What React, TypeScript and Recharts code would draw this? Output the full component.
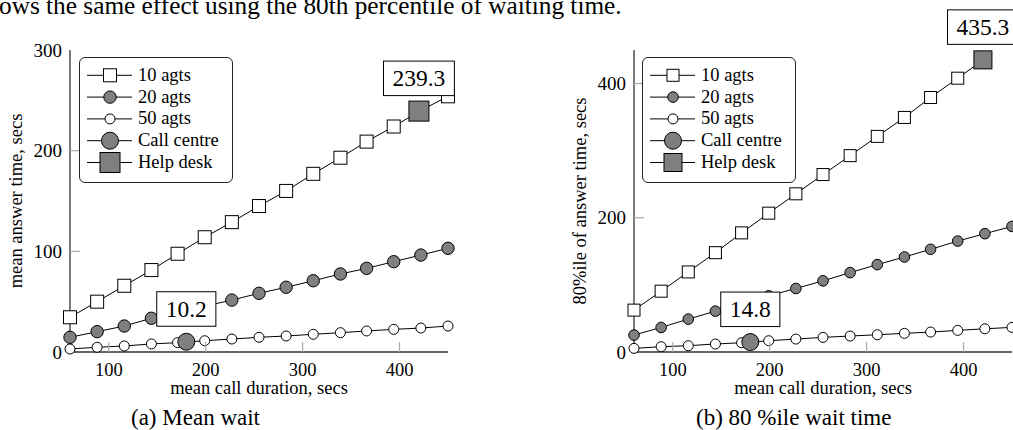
import { ComposedChart, Line, XAxis, YAxis, Legend, Label } from 'recharts';

const FONT = '"Liberation Serif", "Times New Roman", serif';
const GRAY = '#7f7f7f';
const FRAME = '#333';
const TICK_COLOR = '#a8a8a8';
const TICK_LEN = 10;

// mean call duration (secs) shared by every curve
const durations = [60, 88, 116, 144, 171, 199, 227, 255, 283, 311, 339, 366, 394, 422, 450];

// (a) mean answer time, secs
const meanAgts10 = [34.5, 50, 65.8, 81.4, 97.6, 114, 129, 145, 160, 177, 193, 209, 224, 240, 254];
const meanAgts20 = [14.6, 20.2, 25.8, 33.5, 39.5, 45.5, 51.6, 58.3, 64.3, 70.8, 77.5, 83.1, 89.7, 96.3, 103];
const meanAgts50 = [3, 4.7, 6, 8, 9.3, 11.2, 12.9, 14.6, 15.9, 17.6, 19.2, 20.9, 22.5, 23.8, 25.8];
const meanCallCentre = [{ duration: 180, wait: 10.2 }];
const meanHelpDesk = [{ duration: 420, wait: 239.3 }];

// (b) 80th percentile of answer time, secs (last 10 agts point is off the top of the axis)
const p80Agts10 = [62.4, 90.6, 119.3, 148, 177.5, 206.9, 235.7, 264.4, 292.6, 321.3, 349.5, 379.2, 408, 437, null];
const p80Agts20 = [25.2, 36.6, 49, 60.9, 72.5, 83.7, 94.6, 106, 118.3, 130.2, 141.6, 153, 165.3, 176.3, 187.1];
const p80Agts50 = [5.4, 7.9, 9.4, 11.9, 13.8, 16.8, 19.3, 21.8, 23.8, 25.7, 27.8, 29.7, 32.2, 34.6, 36.7];
const p80CallCentre = [{ duration: 180, wait: 14.8 }];
const p80HelpDesk = [{ duration: 420, wait: 435.3 }];

const xTicks = [100, 200, 300, 400];
const meanTicks = [0, 100, 200, 300];
const p80Ticks = [0, 200, 400];

const legendEntries = [
  { name: '10 agts', kind: 'square' },
  { name: '20 agts', kind: 'dot' },
  { name: '50 agts', kind: 'ring' },
  { name: 'Call centre', kind: 'bigDot' },
  { name: 'Help desk', kind: 'bigSquare' },
];

type Kind = 'square' | 'dot' | 'ring' | 'bigDot' | 'bigSquare';
type Sizes = Record<Kind, number>;

const meanSizes: Sizes = { square: 13, dot: 12.4, ring: 10, bigDot: 17, bigSquare: 20 };
const p80Sizes: Sizes = { square: 12, dot: 10.6, ring: 10, bigDot: 17, bigSquare: 18 };

function Marker({ kind, cx, cy, size }: { kind: Kind; cx: number; cy: number; size: number }) {
  const fill = kind === 'dot' || kind === 'bigDot' || kind === 'bigSquare' ? GRAY : '#fff';
  if (kind === 'square' || kind === 'bigSquare') {
    return <rect x={cx - size / 2} y={cy - size / 2} width={size} height={size} fill={fill} stroke="#000" strokeWidth={1} />;
  }
  return <circle cx={cx} cy={cy} r={size / 2} fill={fill} stroke="#000" strokeWidth={1} />;
}

const makeDot = (kind: Kind, size: number) => (p: any) => {
  if (p.cy == null || p.value == null) return <g key={`${kind}-${p.index}`} />;
  return (
    <g key={`${kind}-${p.index}`}>
      <Marker kind={kind} cx={p.cx} cy={p.cy} size={size} />
    </g>
  );
};

// big marker with its value written in a box just above it
const makeCallout = (kind: Kind, size: number) => (p: any) => {
  const text = p.payload.wait.toFixed(1);
  const fs = 23.5;
  const w = (text.length - 1) * 0.5 * fs + 0.25 * fs + 18;
  const h = 34.5;
  const bottom = p.cy - 15.5;
  return (
    <g key={`${kind}-${p.index}`}>
      <Marker kind={kind} cx={p.cx} cy={p.cy} size={size} />
      <rect x={p.cx - w / 2} y={bottom - h} width={w} height={h} fill="#fff" stroke="#000" strokeWidth={1} />
      <text x={p.cx} y={bottom - h / 2 + 8} textAnchor="middle" fontSize={fs} fontFamily={FONT} fill="#000">
        {text}
      </text>
    </g>
  );
};

const BottomTick = (p: any) => (
  <g>
    <line x1={p.x} x2={p.x} y1={p.y} y2={p.y - TICK_LEN} stroke={TICK_COLOR} strokeWidth={1.2} />
    <text x={p.x} y={p.y + 24} textAnchor="middle" fontSize={18.5} fontFamily={FONT} fill="#000">
      {p.payload.value}
    </text>
  </g>
);

const TopTick = (p: any) => (
  <line x1={p.x} x2={p.x} y1={p.y} y2={p.y + TICK_LEN} stroke={TICK_COLOR} strokeWidth={1.2} />
);

const makeLeftTick = (ends: number[]) => (p: any) => (
  <g>
    {!ends.includes(p.payload.value) && (
      <line x1={p.x} x2={p.x + TICK_LEN} y1={p.y} y2={p.y} stroke={TICK_COLOR} strokeWidth={1.2} />
    )}
    <text x={p.x - 8} y={p.y + 6.5} textAnchor="end" fontSize={19} fontFamily={FONT} fill="#000">
      {p.payload.value}
    </text>
  </g>
);

const makeRightTick = (ends: number[]) => (p: any) =>
  ends.includes(p.payload.value) ? (
    <g />
  ) : (
    <line x1={p.x} x2={p.x - TICK_LEN} y1={p.y} y2={p.y} stroke={TICK_COLOR} strokeWidth={1.2} />
  );

function LegendBox({ sizes }: { sizes: Sizes }) {
  return (
    <div
      style={{
        width: 154,
        height: 126,
        boxSizing: 'border-box',
        border: '1px solid #222',
        borderRadius: 6,
        background: '#fff',
        position: 'relative',
      }}
    >
      <svg width={154} height={126} style={{ position: 'absolute', left: -1, top: -1 }}>
        {legendEntries.map((e, i) => {
          const y = 18.3 + i * 21.8;
          return (
            <g key={e.name}>
              <line x1={8} x2={53} y1={y} y2={y} stroke="#000" strokeWidth={1} />
              <Marker kind={e.kind as Kind} cx={31} cy={y} size={sizes[e.kind as Kind]} />
              <text x={59} y={y + 5.5} fontSize={18.5} fontFamily={FONT} fill="#000">
                {e.name}
              </text>
            </g>
          );
        })}
      </svg>
    </div>
  );
}

interface PanelProps {
  width: number;
  marginRight: number;
  agts10: (number | null)[];
  agts20: number[];
  agts50: number[];
  callCentre: { duration: number; wait: number }[];
  helpDesk: { duration: number; wait: number }[];
  yMax: number;
  yTicks: number[];
  yTitle: string;
  sizes: Sizes;
  legendLeft: number;
}

function WaitPanel(props: PanelProps) {
  const { width, marginRight, agts10, agts20, agts50, callCentre, helpDesk, yMax, yTicks, yTitle, sizes, legendLeft } = props;
  const rows = durations.map((d, i) => ({ duration: d, agts10: agts10[i], agts20: agts20[i], agts50: agts50[i] }));
  const ends = [0, yMax];

  return (
    <ComposedChart width={width} height={430} data={rows} margin={{ top: 50, right: marginRight, bottom: 33, left: 0 }}>
      <XAxis
        dataKey="duration"
        type="number"
        domain={[60, 450]}
        ticks={xTicks}
        height={45}
        tickSize={0}
        tickMargin={0}
        tickLine={false}
        axisLine={{ stroke: FRAME, strokeWidth: 1.3 }}
        tick={BottomTick}
      >
        <Label
          content={(lp: any) => (
            <text
              x={lp.viewBox.x + lp.viewBox.width / 2}
              y={lp.viewBox.y + 41.5}
              textAnchor="middle"
              fontSize={18.5}
              fontFamily={FONT}
              fill="#000"
            >
              mean call duration, secs
            </text>
          )}
        />
      </XAxis>
      <XAxis
        xAxisId="top"
        orientation="top"
        dataKey="duration"
        type="number"
        domain={[60, 450]}
        ticks={xTicks}
        height={0}
        tickSize={0}
        tickMargin={0}
        tickLine={false}
        axisLine={{ stroke: FRAME, strokeWidth: 1.3 }}
        tick={TopTick}
      />
      <YAxis
        type="number"
        domain={[0, yMax]}
        ticks={yTicks}
        width={70}
        tickSize={0}
        tickMargin={0}
        tickLine={false}
        axisLine={{ stroke: FRAME, strokeWidth: 1.3 }}
        tick={makeLeftTick(ends)}
      >
        <Label
          content={(lp: any) => (
            <text
              transform={`translate(${lp.viewBox.x + 16}, ${lp.viewBox.y + lp.viewBox.height / 2}) rotate(-90)`}
              y={6}
              textAnchor="middle"
              fontSize={18.5}
              fontFamily={FONT}
              fill="#000"
            >
              {yTitle}
            </text>
          )}
        />
      </YAxis>
      <YAxis
        yAxisId="right"
        orientation="right"
        type="number"
        domain={[0, yMax]}
        ticks={yTicks}
        width={0}
        tickSize={0}
        tickMargin={0}
        tickLine={false}
        axisLine={{ stroke: FRAME, strokeWidth: 1.3 }}
        tick={makeRightTick(ends)}
      />
      <Legend
        layout="horizontal"
        align="center"
        verticalAlign="middle"
        wrapperStyle={{ left: legendLeft, top: 57, width: 154, height: 126 }}
        content={() => <LegendBox sizes={sizes} />}
      />
      <Line dataKey="agts10" name="10 agts" stroke="#000" strokeWidth={1} dot={makeDot('square', sizes.square)} activeDot={false} isAnimationActive={false} />
      <Line dataKey="agts20" name="20 agts" stroke="#000" strokeWidth={1} dot={makeDot('dot', sizes.dot)} activeDot={false} isAnimationActive={false} />
      <Line dataKey="agts50" name="50 agts" stroke="#000" strokeWidth={1} dot={makeDot('ring', sizes.ring)} activeDot={false} isAnimationActive={false} />
      {/* single annotated points, drawn last so their value boxes sit on top */}
      <Line data={callCentre} dataKey="wait" name="Call centre" stroke="none" dot={makeCallout('bigDot', sizes.bigDot)} activeDot={false} isAnimationActive={false} />
      <Line data={helpDesk} dataKey="wait" name="Help desk" stroke="none" dot={makeCallout('bigSquare', sizes.bigSquare)} activeDot={false} isAnimationActive={false} />
    </ComposedChart>
  );
}

export default function App() {
  return (
    <div
      style={{
        position: 'absolute',
        left: 0,
        top: 0,
        width: 1013,
        height: 430,
        background: '#fff',
        overflow: 'hidden',
        fontFamily: FONT,
      }}
    >
      <svg width={1013} height={430} style={{ position: 'absolute', left: 0, top: 0 }}>
        <text x={-1} y={13.5} fontSize={25.3} fontFamily={FONT} fill="#000">
          ows the same effect using the 80th percentile of waiting time.
        </text>
        <text x={131} y={425} fontSize={23} fontFamily={FONT} fill="#000">
          (a) Mean wait
        </text>
        <text x={696} y={425} fontSize={23} fontFamily={FONT} fill="#000">
          (b) 80 %ile wait time
        </text>
      </svg>
      <div style={{ position: 'absolute', left: 0, top: 0 }}>
        <WaitPanel
          width={470}
          marginRight={22}
          agts10={meanAgts10}
          agts20={meanAgts20}
          agts50={meanAgts50}
          callCentre={meanCallCentre}
          helpDesk={meanHelpDesk}
          yMax={300}
          yTicks={meanTicks}
          yTitle="mean answer time, secs"
          sizes={meanSizes}
          legendLeft={79}
        />
      </div>
      <div style={{ position: 'absolute', left: 564, top: 0 }}>
        <WaitPanel
          width={449}
          marginRight={1}
          agts10={p80Agts10}
          agts20={p80Agts20}
          agts50={p80Agts50}
          callCentre={p80CallCentre}
          helpDesk={p80HelpDesk}
          yMax={450}
          yTicks={p80Ticks}
          yTitle="80%ile of answer time, secs"
          sizes={p80Sizes}
          legendLeft={78}
        />
      </div>
    </div>
  );
}
